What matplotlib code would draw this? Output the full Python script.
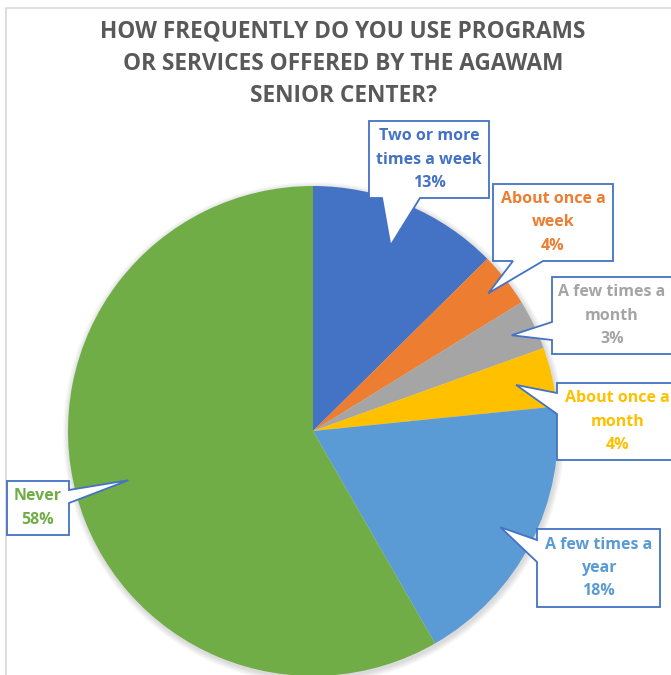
import numpy as np
import matplotlib.pyplot as plt
from matplotlib.patches import Polygon, Rectangle, Circle

# Survey answers (clockwise from 12 o'clock)
categories = ['Two or more\ntimes a week', 'About once a\nweek', 'A few times a\nmonth',
              'About once a\nmonth', 'A few times a\nyear', 'Never']
shares = [12.6, 3.6, 3.3, 3.9, 18.3, 58.3]
colors = ['#4472C4', '#ED7D31', '#A5A5A5', '#FFC000', '#5B9BD5', '#70AD47']

title = 'HOW FREQUENTLY DO YOU USE PROGRAMS\nOR SERVICES OFFERED BY THE AGAWAM\nSENIOR CENTER?'

W, H = 671, 675
CX, CY, R = 313, 431, 245          # pie centre / radius in pixels (y measured from top)
BORDER = '#4472C4'

# callout layout in pixels: box (x0, y0, x1, y1), side of pointer, pointer base, tip radius fraction
callouts = [
    dict(box=(369, 121, 489, 198), side='bottom', base=(382, 420), frac=0.82),
    dict(box=(493, 184, 613, 261), side='bottom', base=(513, 543), frac=0.91),
    dict(box=(552, 277, 672, 354), side='left', base=(322, 340), frac=0.90),
    dict(box=(557, 383, 678, 460), side='left', base=(393, 414), frac=0.85),
    dict(box=(537, 529, 660, 607), side='left', base=(540, 562), frac=0.86),
    dict(box=(7, 481, 69, 535), side='right', base=(490, 503), frac=0.78),
]


def fy(y):
    # pixel row -> data y
    return H - y


fig = plt.figure(figsize=(W / 100, H / 100), dpi=100)
ax = fig.add_axes([0, 0, 1, 1])

# soft shadow under the pie
for k in range(6, 0, -1):
    ax.add_patch(Circle((CX + 1, fy(CY) - 2), R + k, color='black', alpha=0.025, lw=0))

ax.pie(shares, colors=colors, startangle=90, counterclock=False,
       center=(CX, fy(CY)), radius=R, wedgeprops=dict(linewidth=0))

# chart frame
ax.add_patch(Rectangle((5.5, -20), 720, fy(8) + 20, fill=False, ec='#D9D9D9', lw=1.2))

ax.text(343, fy(64), title, ha='center', va='center', fontsize=16.3, fontweight='bold',
        color='#595959', family='Open Sans', linespacing=1.47)

cum = 0.0
for cat, val, col, c in zip(categories, shares, colors, callouts):
    ang = np.deg2rad(360 * (cum + val / 2) / 100)
    cum += val
    tx = CX + c['frac'] * R * np.sin(ang)
    ty = CY - c['frac'] * R * np.cos(ang)
    x0, y0, x1, y1 = c['box']
    a, b = c['base']
    if c['side'] == 'bottom':
        pts = [(x0, y0), (x1, y0), (x1, y1), (b, y1), (tx, ty), (a, y1), (x0, y1)]
    elif c['side'] == 'left':
        pts = [(x0, y0), (x1, y0), (x1, y1), (x0, y1), (x0, b), (tx, ty), (x0, a)]
    else:
        pts = [(x0, y0), (x1, y0), (x1, a), (tx, ty), (x1, b), (x1, y1), (x0, y1)]
    pts = [(px, fy(py)) for px, py in pts]
    ax.add_patch(Polygon(pts, closed=True, fc='white', ec=BORDER, lw=1.3, joinstyle='miter'))
    ax.text((x0 + x1) / 2, fy((y0 + y1) / 2), f'{cat}\n{val:.0f}%', ha='center', va='center',
            fontsize=11.5, fontweight='bold', color=col, family='Open Sans', linespacing=1.62)

ax.set_xlim(0, W)
ax.set_ylim(0, H)
ax.set_aspect('equal')
ax.axis('off')

plt.savefig('out.png', dpi=100)
plt.close()
